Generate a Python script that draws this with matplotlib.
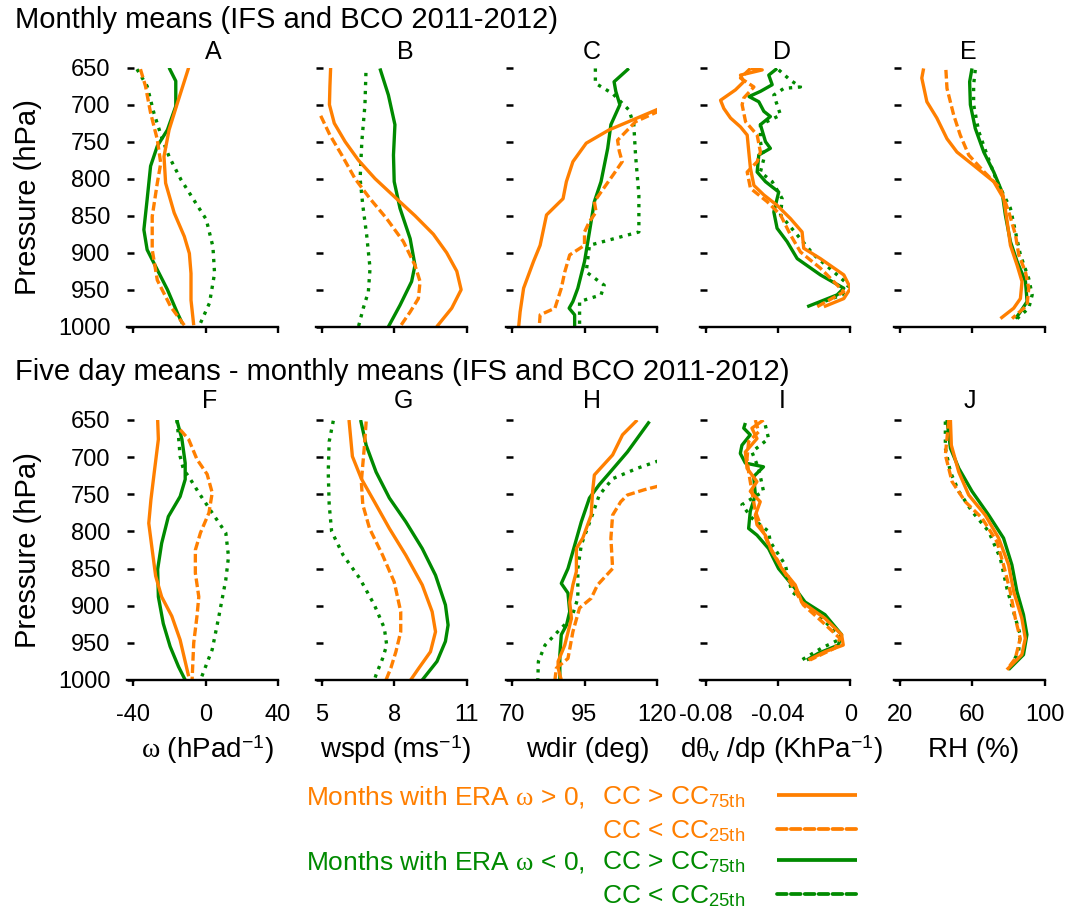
import matplotlib
matplotlib.use("Agg")
import matplotlib.pyplot as plt
from matplotlib.lines import Line2D

plt.rcParams['font.family'] = ['Liberation Sans', 'DejaVu Sans']
plt.rcParams['mathtext.fontset'] = 'custom'
plt.rcParams['mathtext.rm'] = 'Liberation Sans'
plt.rcParams['mathtext.it'] = 'Liberation Serif'
plt.rcParams['mathtext.bf'] = 'Liberation Sans:bold'

ORANGE = '#ff7f00'
GREEN = '#008a00'

# ---------------- data (pressure nodes in hPa, values) ----------------
# Panel A: omega (hPa/d), monthly means
A_os_p = [650, 697, 734, 770, 806, 846, 878, 901, 928, 964, 998]
A_os_v = [-9.3, -15.4, -20.1, -22.9, -22, -17.3, -11.7, -8.9, -8, -8, -6.5]
A_od_p = [652, 675, 711, 747, 779, 806, 851, 896, 937, 973, 998]
A_od_v = [-35.9, -33.1, -30.3, -26.6, -24.7, -26.6, -29.4, -29.4, -26.6, -19.2, -11.7]
A_gs_p = [650, 668, 702, 734, 756, 783, 828, 869, 896, 923, 950, 982, 996]
A_gs_v = [-20.1, -16.4, -16.4, -21, -26.6, -30.3, -32.2, -34, -32.2, -26.6, -21, -15.4, -12.7]
A_gd_p = [652, 675, 711, 747, 770, 801, 837, 855, 892, 928, 968, 998]
A_gd_v = [-37.8, -32.2, -28.5, -23.8, -20.1, -13.6, -4.3, 0.4, 4.1, 5, 2.2, -3.3]

# Panel B: wind speed (m/s)
B_os_p = [650, 675, 700, 725, 750, 775, 800, 825, 850, 875, 900, 925, 950, 975, 1000]
B_os_v = [5.37, 5.34, 5.32, 5.52, 5.97, 6.52, 7.21, 8.03, 8.86, 9.62, 10.17, 10.59, 10.77, 10.38, 9.76]
B_od_p = [715, 741, 768, 800, 827, 854, 885, 917, 939, 962, 980, 1000]
B_od_v = [4.96, 5.34, 5.83, 6.38, 7.0, 7.69, 8.38, 8.86, 9.07, 9.0, 8.66, 8.24]
B_gs_p = [651, 687, 727, 768, 804, 840, 881, 917, 939, 971, 1000]
B_gs_v = [7.41, 7.76, 8.03, 7.97, 8.0, 8.24, 8.66, 8.86, 8.72, 8.24, 7.76]
B_gd_p = [657, 700, 750, 800, 836, 876, 921, 953, 975, 1000]
B_gd_v = [6.83, 6.79, 6.66, 6.59, 6.7, 6.86, 7.0, 6.93, 6.72, 6.52]

# Panel C: wind direction (deg)
C_os_p = [705, 734, 752, 777, 804, 827, 849, 890, 912, 948, 980, 1000]
C_os_v = [121, 103.5, 95.6, 91, 88.75, 87.6, 81.9, 79.7, 77.4, 74, 72.8, 72.3]
C_od_p = [708, 723, 748, 763, 777, 793, 818, 831, 845, 858, 872, 890, 903, 926, 948, 975, 984, 1000]
C_od_v = [121, 112.6, 106.4, 107, 108, 105.2, 100.7, 98.4, 99, 96.7, 95, 95, 89.9, 88.2, 87, 84.8, 79.7, 79.4]
C_gs_p = [651, 669, 682, 700, 727, 759, 804, 831, 872, 912, 948, 966, 975, 984, 1000]
C_gs_v = [110.3, 105.2, 105.8, 107.2, 104.1, 103, 100.7, 98.4, 96.7, 95, 92.7, 91, 89.7, 91.6, 91.6]
C_gd_p = [651, 671, 685, 707, 727, 768, 822, 872, 890, 926, 944, 957, 966, 1000]
C_gd_v = [98.75, 98.75, 104.7, 110.3, 112, 112.6, 113.75, 113.75, 96.7, 95.6, 101.8, 100.7, 93.3, 93.3]

# Panel D: dtheta_v/dp (K/hPa)
D_os_p = [651, 653, 660, 669, 680, 694, 705, 718, 730, 741, 764, 786, 809, 822, 836, 854, 872, 894, 908, 930, 948, 962, 973]
D_os_v = [-0.0552, -0.0487, -0.0607, -0.0589, -0.0635, -0.0717, -0.0699, -0.0662, -0.0607, -0.057, -0.0561, -0.0552,
          -0.0533, -0.0478, -0.0405, -0.0331, -0.0267, -0.0258, -0.0166, -0.0037, 0.0, -0.0037, -0.0147]
D_od_p = [651, 664, 676, 691, 700, 723, 741, 764, 777, 791, 813, 831, 849, 876, 899, 921, 939, 953, 973]
D_od_v = [-0.0552, -0.0607, -0.0533, -0.0589, -0.0598, -0.0579, -0.0515, -0.0497, -0.0515, -0.057, -0.0552, -0.046,
          -0.0386, -0.0331, -0.0276, -0.0166, -0.0092, -0.0037, -0.0184]
D_gs_p = [651, 660, 673, 682, 689, 696, 709, 716, 727, 750, 759, 768, 791, 804, 818, 845, 867, 885, 908, 930, 948, 957, 973]
D_gs_v = [-0.0405, -0.0451, -0.0432, -0.0497, -0.056, -0.0506, -0.0478, -0.0442, -0.0497, -0.0469, -0.0442, -0.0506,
          -0.0515, -0.0469, -0.0396, -0.0423, -0.0405, -0.035, -0.0294, -0.0166, -0.0037, -0.0074, -0.0239]
D_gd_p = [653, 667, 676, 678, 687, 714, 727, 750, 773, 791, 804, 827, 849, 876, 903, 926, 944, 957, 971]
D_gd_v = [-0.0396, -0.0331, -0.0276, -0.0368, -0.0423, -0.0386, -0.0497, -0.0497, -0.0478, -0.0497, -0.0432, -0.0377,
          -0.0386, -0.0294, -0.0202, -0.0092, -0.0009, -0.0046, -0.0202]

# Panel E: RH (%)
E_os_p = [651, 664, 696, 718, 746, 764, 782, 804, 827, 858, 890, 917, 939, 962, 975, 989]
E_os_v = [33.3, 32.3, 35.1, 40.6, 46.2, 51.7, 60.9, 72, 77.5, 79.4, 81.2, 84.9, 87.6, 86.7, 83, 75.7]
E_od_p = [653, 678, 714, 741, 768, 790, 813, 845, 876, 903, 926, 948, 971, 989]
E_od_v = [45.6, 46.2, 49.9, 53.5, 58.2, 66.4, 75.7, 80.3, 84, 85.8, 89.5, 91.3, 90.4, 82.1]
E_gs_p = [651, 669, 700, 732, 764, 791, 818, 849, 885, 912, 939, 966, 980, 989]
E_gs_v = [60, 58.7, 59.1, 61.8, 66.5, 72, 76.6, 78.4, 81.2, 84.9, 89.5, 90.4, 86.7, 84]
E_gd_p = [653, 673, 700, 736, 768, 804, 840, 872, 903, 935, 957, 975, 989]
E_gd_v = [61.8, 60.9, 60.9, 63.7, 68.3, 73.8, 81.2, 84, 86.7, 91.3, 93.2, 91.3, 84.9]

# Panel F: omega, five day minus monthly
F_os_p = [650, 676, 721, 757, 789, 825, 860, 888, 914, 946, 995]
F_os_v = [-26.4, -26, -28.3, -30.1, -31.3, -29.4, -27.5, -24.2, -18.6, -14, -9.3]
F_od_p = [663, 676, 703, 723, 748, 775, 802, 825, 856, 888, 914, 950, 1000]
F_od_v = [-14, -9.3, -4.7, 0.9, 3.7, 1.9, -2.8, -5.6, -5.6, -3.7, -4.7, -6.5, -7.4]
F_gs_p = [650, 676, 708, 730, 753, 780, 816, 851, 888, 924, 955, 982, 1000]
F_gs_v = [-15.8, -13, -11.2, -11.2, -14, -20.5, -24.2, -26.4, -26, -23.3, -19.5, -14.9, -11.2]
F_gd_p = [650, 672, 699, 717, 726, 748, 775, 802, 834, 865, 914, 959, 1000]
F_gd_v = [-15.8, -14.9, -14, -12.1, -9.3, -3.7, 3.7, 11.2, 12.7, 11.2, 7.4, 3.7, -2.8]

# Panel G: wind speed
G_os_p = [650, 699, 729, 760, 796, 832, 872, 908, 935, 962, 984, 1000]
G_os_v = [6.13, 6.27, 6.64, 7.18, 7.8, 8.48, 9.16, 9.57, 9.71, 9.5, 9.02, 8.68]
G_od_p = [652, 684, 733, 764, 796, 832, 868, 908, 935, 962, 984, 1000]
G_od_v = [6.84, 6.77, 6.64, 6.7, 6.98, 7.52, 8.0, 8.27, 8.27, 8.07, 7.86, 7.66]
G_gs_p = [650, 684, 720, 755, 787, 823, 859, 899, 926, 948, 975, 1000]
G_gs_v = [6.61, 6.84, 7.25, 7.8, 8.48, 9.16, 9.71, 10.12, 10.23, 10.12, 9.77, 9.16]
G_gd_p = [651, 679, 720, 764, 800, 832, 863, 899, 930, 953, 971, 993, 1000]
G_gd_v = [5.48, 5.31, 5.27, 5.31, 5.41, 5.89, 6.57, 7.18, 7.59, 7.69, 7.52, 7.25, 7.18]

# Panel H: wind direction
H_os_p = [650, 670, 697, 724, 746, 778, 809, 823, 854, 872, 895, 917, 953, 975, 984, 1000]
H_os_v = [113.2, 108.1, 104.7, 98.4, 97.8, 97.3, 94.4, 92.2, 92.2, 91, 89.9, 90.5, 88.2, 85.9, 85.9, 87]
H_od_p = [739, 744, 751, 760, 778, 809, 850, 872, 890, 903, 935, 971, 984, 1000]
H_od_v = [120.5, 115.5, 109.8, 107.5, 104.7, 104.1, 104.7, 99.5, 97.3, 93.3, 91, 89.3, 85.3, 84.8]
H_gs_p = [652, 693, 724, 737, 755, 787, 827, 850, 870, 883, 908, 926, 939, 966, 1000]
H_gs_v = [117.4, 109.8, 103, 100.1, 96.7, 93.9, 91, 89.3, 87, 89.3, 89.9, 88.8, 87, 86.5, 86.5]
H_gd_p = [705, 715, 729, 751, 782, 818, 850, 890, 917, 930, 939, 953, 975, 1000]
H_gd_v = [120.5, 113.2, 104.7, 100.1, 97.3, 93.9, 92.7, 92.7, 90.5, 87, 84.8, 81.4, 79.1, 78.9]

# Panel I: dtheta_v/dp
I_os_p = [650, 661, 675, 693, 715, 733, 746, 760, 778, 791, 805, 827, 850, 872, 895, 917, 939, 953, 962, 973]
I_os_v = [-0.048, -0.0544, -0.0516, -0.058, -0.0571, -0.0516, -0.0553, -0.0498, -0.0525, -0.0516, -0.047, -0.0434,
          -0.0379, -0.0305, -0.0269, -0.0141, -0.0049, -0.004, -0.0141, -0.0232]
I_od_p = [650, 666, 679, 702, 720, 746, 773, 796, 818, 841, 872, 899, 921, 944, 957, 973]
I_od_v = [-0.0525, -0.0507, -0.0562, -0.0571, -0.0562, -0.0544, -0.0525, -0.0489, -0.0452, -0.0397, -0.0324, -0.026,
          -0.0159, -0.0058, -0.0086, -0.0223]
I_gs_p = [654, 661, 670, 684, 695, 708, 713, 726, 751, 773, 796, 805, 823, 850, 877, 895, 912, 939, 953, 964, 973]
I_gs_v = [-0.058, -0.0589, -0.0553, -0.0599, -0.0608, -0.058, -0.048, -0.0534, -0.0525, -0.0553, -0.0562, -0.0516,
          -0.0452, -0.0397, -0.0305, -0.0251, -0.0141, -0.0049, -0.0067, -0.0177, -0.0241]
I_gd_p = [657, 675, 693, 715, 746, 764, 782, 800, 814, 845, 881, 903, 926, 944, 957, 973]
I_gd_v = [-0.047, -0.0452, -0.0544, -0.0507, -0.048, -0.0599, -0.0544, -0.0452, -0.0443, -0.036, -0.0324, -0.0214,
          -0.0122, -0.0049, -0.0159, -0.0269]

# Panel J: RH
J_os_p = [650, 684, 720, 751, 778, 809, 845, 881, 917, 944, 966, 986]
J_os_v = [48.1, 48.6, 52.7, 58.2, 67.3, 74.7, 80.2, 83, 87.5, 89.4, 87.5, 79.3]
J_od_p = [650, 697, 733, 760, 782, 814, 845, 881, 917, 944, 971, 986]
J_od_v = [47.2, 45.3, 49, 56.3, 65.5, 73.8, 77.4, 81.1, 83.9, 86.6, 83.9, 79.3]
J_gs_p = [650, 688, 715, 746, 778, 809, 845, 881, 912, 939, 966, 986]
J_gs_v = [46.2, 48.1, 52.7, 60, 69.2, 77.4, 82, 84.8, 88.4, 90.3, 88.4, 80.2]
J_gd_p = [652, 688, 720, 746, 773, 800, 836, 877, 908, 939, 962, 986]
J_gd_v = [45.3, 45.3, 48.1, 52.7, 60, 69.2, 75.6, 79.3, 82.9, 86.6, 85.7, 80.2]

panel_letters = ['A', 'B', 'C', 'D', 'E', 'F', 'G', 'H', 'I', 'J']
x_ranges = [(-40, 40), (5, 11), (70, 120), (-0.08, 0), (20, 100)]
x_ticks = [[-40, 0, 40], [5, 8, 11], [70, 95, 120], [-0.08, -0.04, 0], [20, 60, 100]]
x_ticklabels = [['-40', '0', '40'], ['5', '8', '11'], ['70', '95', '120'],
                ['-0.08', '-0.04', '0'], ['20', '60', '100']]
x_labels = [r'$\omega$ (hPad$^{\mathrm{-1}}$)', r'wspd (ms$^{\mathrm{-1}}$)', 'wdir (deg)',
            r'd$\theta_{\mathrm{v}}$ /dp (KhPa$^{\mathrm{-1}}$)', 'RH (%)']
y_ticks = [650, 700, 750, 800, 850, 900, 950, 1000]
row_titles = ['Monthly means (IFS and BCO 2011-2012)',
              'Five day means - monthly means (IFS and BCO 2011-2012)']
legend_groups = [r'Months with ERA $\omega$ > 0,', r'Months with ERA $\omega$ < 0,']
legend_cc = [r'CC > CC$_{\mathrm{75th}}$', r'CC < CC$_{\mathrm{25th}}$']

panels = {
    'A': [(A_gd_p, A_gd_v), (A_gs_p, A_gs_v), (A_od_p, A_od_v), (A_os_p, A_os_v)],
    'B': [(B_gd_p, B_gd_v), (B_gs_p, B_gs_v), (B_od_p, B_od_v), (B_os_p, B_os_v)],
    'C': [(C_gd_p, C_gd_v), (C_gs_p, C_gs_v), (C_od_p, C_od_v), (C_os_p, C_os_v)],
    'D': [(D_gd_p, D_gd_v), (D_gs_p, D_gs_v), (D_od_p, D_od_v), (D_os_p, D_os_v)],
    'E': [(E_gd_p, E_gd_v), (E_gs_p, E_gs_v), (E_od_p, E_od_v), (E_os_p, E_os_v)],
    'F': [(F_gd_p, F_gd_v), (F_gs_p, F_gs_v), (F_od_p, F_od_v), (F_os_p, F_os_v)],
    'G': [(G_gd_p, G_gd_v), (G_gs_p, G_gs_v), (G_od_p, G_od_v), (G_os_p, G_os_v)],
    'H': [(H_gd_p, H_gd_v), (H_gs_p, H_gs_v), (H_od_p, H_od_v), (H_os_p, H_os_v)],
    'I': [(I_gd_p, I_gd_v), (I_gs_p, I_gs_v), (I_od_p, I_od_v), (I_os_p, I_os_v)],
    'J': [(J_gd_p, J_gd_v), (J_gs_p, J_gs_v), (J_od_p, J_od_v), (J_os_p, J_os_v)],
}

# styles: green dotted, green solid, orange dashed, orange solid
LW = 2.4
styles = [
    dict(color=GREEN, lw=LW, ls=(0, (1.0, 1.7))),
    dict(color=GREEN, lw=LW, ls='-'),
    dict(color=ORANGE, lw=LW, ls=(0, (2.6, 1.1))),
    dict(color=ORANGE, lw=LW, ls='-'),
]

# ---------------- layout ----------------
W, H = 1069, 911
fig = plt.figure(figsize=(W / 100, H / 100), dpi=100)

col_left_px = [127, 315.7, 506, 699.5, 893.5]
col_w_px = 151
row_top_px = [67.7, 420]
row_bot_px = [326.7, 680]
letter_x_px = [[213, 405, 592, 782, 968], [210, 403, 592, 782, 970]]
letter_y_px = [52, 401]

TICK_FS = 17

for r in range(2):
    for c in range(5):
        letter = panel_letters[r * 5 + c]
        left = col_left_px[c] / W
        bottom = (H - row_bot_px[r]) / H
        height = (row_bot_px[r] - row_top_px[r]) / H
        ax = fig.add_axes([left, bottom, col_w_px / W, height])
        xmin, xmax = x_ranges[c]
        pad = (xmax - xmin) * 6.0 / 145.0
        ax.set_xlim(xmin - pad, xmax)
        ax.set_ylim(1000, 650)
        for (pp, vv), st in zip(panels[letter], styles):
            ax.plot(vv, pp, solid_capstyle='butt', dash_capstyle='butt', **st)
        for s in ['top', 'right', 'left']:
            ax.spines[s].set_visible(False)
        ax.spines['bottom'].set_linewidth(1.7)
        ax.set_xticks(x_ticks[c])
        ax.set_yticks(y_ticks)
        ax.tick_params(axis='x', direction='out', length=4, width=1.7, pad=13,
                       labelsize=TICK_FS)
        ax.tick_params(axis='y', direction='in', length=4.8, width=1.8, pad=12,
                       labelsize=TICK_FS, left=True)
        if r == 1:
            ax.set_xticklabels(x_ticklabels[c])
        else:
            ax.set_xticklabels([])
        if c == 0:
            ax.set_yticklabels([str(t) for t in y_ticks])
        else:
            ax.set_yticklabels([])
        ax.patch.set_alpha(0)
        fig.text(letter_x_px[r][c] / W, 1 - letter_y_px[r] / H, letter,
                 ha='center', va='center', fontsize=18)

# row titles
fig.text(15 / W, 1 - 20 / H, row_titles[0], ha='left', va='center', fontsize=21)
fig.text(15 / W, 1 - 372 / H, row_titles[1], ha='left', va='center', fontsize=21)

# y labels
for yc in [197, 550]:
    fig.text(28 / W, 1 - yc / H, 'Pressure (hPa)', rotation=90, ha='center',
             va='center', fontsize=21)

# x labels
xlabel_x_px = [207, 396, 588, 781, 974]
for c in range(5):
    fig.text(xlabel_x_px[c] / W, 1 - 750 / H, x_labels[c], ha='center', va='center',
             fontsize=20)

# legend
leg_rows_px = [797, 831, 862, 896]
leg_colors = [ORANGE, ORANGE, GREEN, GREEN]
leg_ls = ['-', (0, (2.6, 1.1)), '-', (0, (2.6, 1.1))]
for i in range(4):
    y = 1 - leg_rows_px[i] / H
    if i % 2 == 0:
        fig.text(306 / W, y, legend_groups[i // 2], color=leg_colors[i], ha='left',
                 va='center', fontsize=19)
    fig.text(602 / W, y, legend_cc[i % 2], color=leg_colors[i], ha='left',
             va='center', fontsize=19)
    ly = 1 - (leg_rows_px[i] - 2) / H
    fig.add_artist(Line2D([777 / W, 857 / W], [ly, ly], transform=fig.transFigure,
                          color=leg_colors[i], lw=LW + 0.3, ls=leg_ls[i],
                          solid_capstyle='butt', dash_capstyle='round'))

fig.savefig('out.png', dpi=100)
